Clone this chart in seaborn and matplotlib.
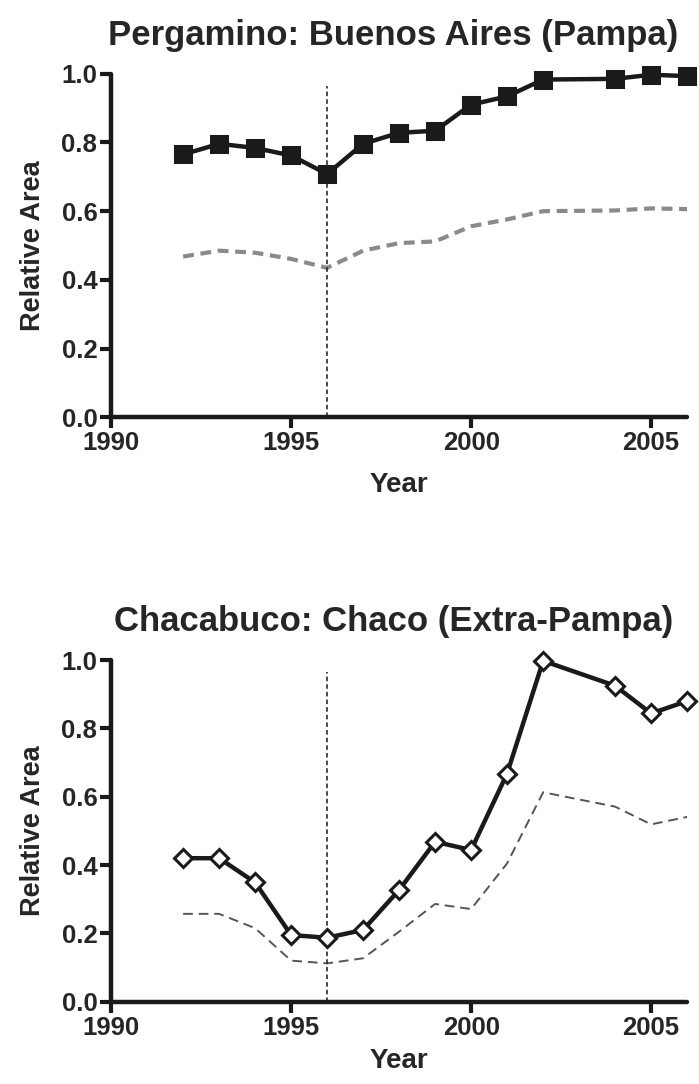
import matplotlib
matplotlib.use("Agg")
import matplotlib.pyplot as plt
import seaborn as sns
import pandas as pd

# Data (2003 missing in both panels)
years = [1992, 1993, 1994, 1995, 1996, 1997, 1998, 1999, 2000, 2001, 2002, 2004, 2005, 2006]

pergamino_area = [0.765, 0.796, 0.784, 0.762, 0.708, 0.796, 0.828, 0.834, 0.910, 0.934, 0.983, 0.985, 0.997, 0.993]
pergamino_ref = [0.468, 0.485, 0.479, 0.461, 0.435, 0.485, 0.507, 0.512, 0.556, 0.576, 0.600, 0.602, 0.608, 0.606]

chacabuco_area = [0.420, 0.420, 0.349, 0.195, 0.187, 0.210, 0.327, 0.468, 0.444, 0.668, 0.998, 0.925, 0.844, 0.880]
chacabuco_ref = [0.257, 0.257, 0.215, 0.120, 0.112, 0.127, 0.205, 0.286, 0.271, 0.405, 0.613, 0.571, 0.519, 0.541]

titles = ["Pergamino: Buenos Aires (Pampa)", "Chacabuco: Chaco (Extra-Pampa)"]
x_ticks = [1990, 1995, 2000, 2005]
y_ticks = [0.0, 0.2, 0.4, 0.6, 0.8, 1.0]
policy_year = 1996

sns.set_style("ticks")
plt.rcParams["font.family"] = ["Liberation Sans", "DejaVu Sans"]
plt.rcParams["font.weight"] = "bold"

fig = plt.figure(figsize=(6.99, 10.84), dpi=100)
ax_top = fig.add_axes([0.159, 0.615, 0.824, 0.317])
ax_bot = fig.add_axes([0.159, 0.076, 0.824, 0.315])

panels = [
    (ax_top, pergamino_area, pergamino_ref, "s", "#1a1a1a", "#8a8a8a", 3.0, (2.6, 1.6), 12),
    (ax_bot, chacabuco_area, chacabuco_ref, "D", "white", "#555555", 1.4, (5, 3), 6),
]

for i, (ax, area, ref, marker, mface, ref_col, ref_lw, ref_dash, xpad) in enumerate(panels):
    df = pd.DataFrame({"Year": years, "Area": area, "Ref": ref})
    sns.lineplot(data=df, x="Year", y="Ref", ax=ax, color=ref_col, lw=ref_lw,
                 dashes=False, linestyle=(0, ref_dash))
    ax.axvline(policy_year, ymin=0, ymax=0.965, color="#1a1a1a", lw=1.1, ls=(0, (3, 2)))
    ms = 11 if marker == "s" else 9.5
    sns.lineplot(data=df, x="Year", y="Area", ax=ax, color="#1a1a1a", lw=3.2,
                 marker=marker, markersize=ms, markerfacecolor=mface,
                 markeredgecolor="#1a1a1a", markeredgewidth=2.2, clip_on=False)

    ax.set_xlim(1990, 2006)
    ax.set_ylim(0, 1.0)
    ax.set_xticks(x_ticks)
    ax.set_yticks(y_ticks)
    ax.set_yticklabels([f"{v:.1f}" for v in y_ticks])
    ax.tick_params(width=3, length=8, labelsize=18.5, color="#1a1a1a", pad=2)
    for lab in ax.get_xticklabels() + ax.get_yticklabels():
        lab.set_fontweight("bold")
    for side in ["left", "bottom"]:
        ax.spines[side].set_linewidth(3.2)
        ax.spines[side].set_color("#1a1a1a")
        ax.spines[side].set_capstyle("round")
    sns.despine(ax=ax)
    ax.set_xlabel("Year", fontsize=20, fontweight="bold", labelpad=xpad)
    ax.set_ylabel("Relative Area", fontsize=19.5, fontweight="bold", labelpad=11)
    ax.set_title(titles[i], fontsize=25, fontweight="bold", pad=21, x=0.49)

fig.savefig("out.png", dpi=100)
